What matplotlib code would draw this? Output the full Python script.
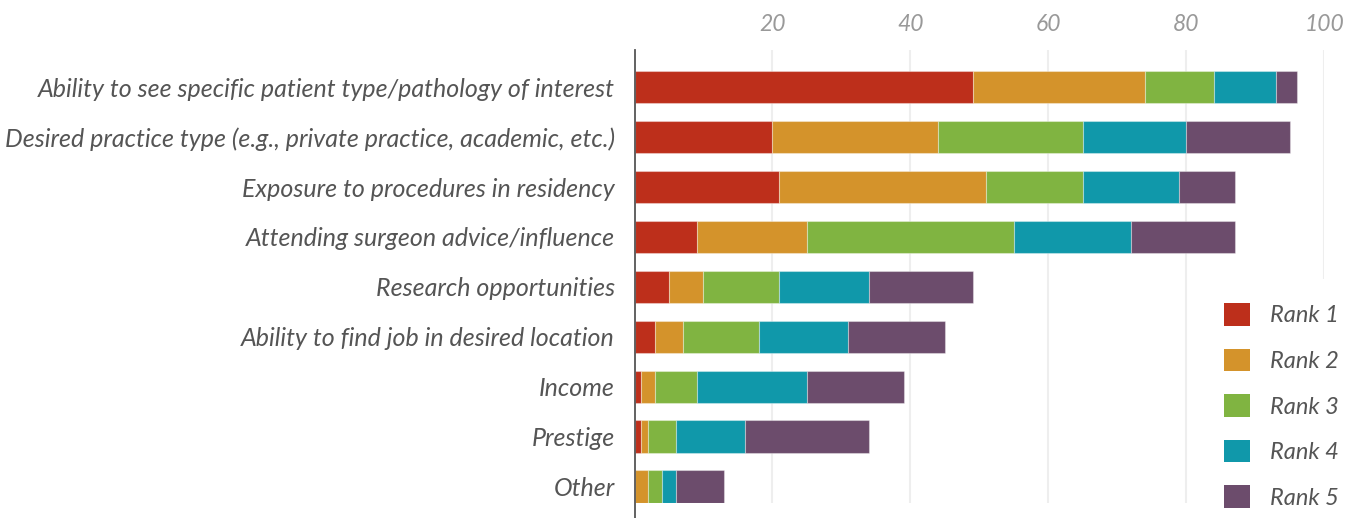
import matplotlib.pyplot as plt
import numpy as np
from matplotlib.patches import Patch

plt.rcParams['font.family'] = ['Lato', 'DejaVu Sans']

# data (percent of respondents)
categories = [
    "Ability to see specific patient type/pathology of interest",
    "Desired practice type (e.g., private practice, academic, etc.)",
    "Exposure to procedures in residency",
    "Attending surgeon advice/influence",
    "Research opportunities",
    "Ability to find job in desired location",
    "Income",
    "Prestige",
    "Other",
]
rank1 = [49, 20, 21, 9, 5, 3, 1, 1, 0]
rank2 = [25, 24, 30, 16, 5, 4, 2, 1, 2]
rank3 = [10, 21, 14, 30, 11, 11, 6, 4, 2]
rank4 = [9, 15, 14, 17, 13, 13, 16, 10, 2]
rank5 = [3, 15, 8, 15, 15, 14, 14, 18, 7]
ranks = [rank1, rank2, rank3, rank4, rank5]
rank_names = ["Rank 1", "Rank 2", "Rank 3", "Rank 4", "Rank 5"]
colors = ["#BD2F1B", "#D4932B", "#80B441", "#1098AA", "#6C4C6C"]
ticks = [20, 40, 60, 80, 100]

fig = plt.figure(figsize=(13.56, 5.18), dpi=100)
ax = fig.add_axes([634.5 / 1356, 1 - 503 / 518, 689.8 / 1356, 453 / 518])

y = np.arange(len(categories))
left = np.zeros(len(categories))
for vals, c in zip(ranks, colors):
    ax.barh(y, vals, left=left, height=0.647, color=c,
            edgecolor=(1, 1, 1, 0.35), linewidth=0.8, zorder=3)
    left += np.array(vals)

ax.set_xlim(0, 100)
ax.set_ylim(8.33, -0.745)
ax.set_yticks(y)
ax.set_yticklabels(categories, fontsize=18, style='italic', color='#555555')
ax.set_xticks(ticks)
ax.set_xticklabels([str(t) for t in ticks], fontsize=16.5, style='italic',
                   color='#999999')
ax.xaxis.tick_top()
ax.tick_params(axis='both', length=0)
ax.tick_params(axis='y', pad=14)
ax.tick_params(axis='x', pad=11)
ax.grid(axis='x', color='#eeeeee', linewidth=1.5, zorder=0)
for s in ['top', 'right', 'bottom', 'left']:
    ax.spines[s].set_visible(False)
ax.axvline(0, ymin=-0.04, ymax=1, color='#555555', linewidth=1.3,
           clip_on=False, zorder=4)

handles = [Patch(facecolor=c, edgecolor='none') for c in colors]
leg = fig.legend(handles, rank_names, loc='upper left',
                 bbox_to_anchor=(1200 / 1356, 1 - 279 / 518),
                 frameon=True, fancybox=False, framealpha=1,
                 facecolor='white', edgecolor='none',
                 prop={'size': 17, 'style': 'italic'},
                 handlelength=1.1, handleheight=1.1, handletextpad=0.85,
                 labelspacing=0.94, borderpad=1.02, borderaxespad=0)
leg.set_zorder(10)
for t in leg.get_texts():
    t.set_color('#555555')

fig.savefig('out.png', dpi=100)
